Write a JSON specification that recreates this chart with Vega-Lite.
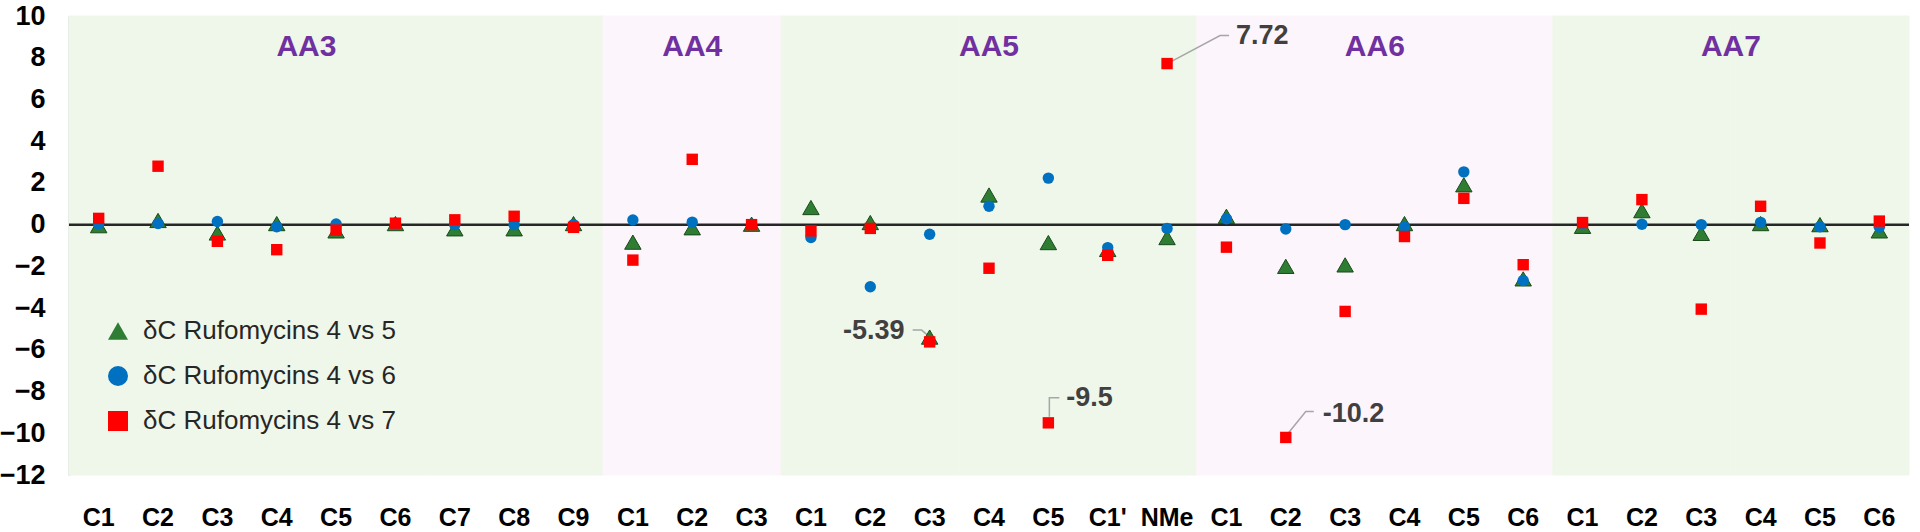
{
  "$schema": "https://vega.github.io/schema/vega-lite/v6.json",
  "width": 1840,
  "height": 459,
  "autosize": {"type": "none"},
  "padding": {"left": 69, "top": 16, "right": 11, "bottom": 57},
  "background": "white",
  "config": {
    "view": {"stroke": null},
    "font": "Liberation Sans",
    "axisY": {"labelFontSize": 27, "labelFontWeight": "bold", "labelColor": "#000000", "ticks": false, "grid": false, "domain": true, "domainColor": "#C4CCC4", "domainWidth": 2, "labelPadding": 24, "labelFlush": false, "labelOverlap": false}
  },
  "datasets": {
    "rows": [
      {"aa": "AA3", "pos": "AA3 C1", "d5": -0.05, "d6": 0.03, "d7": 0.3},
      {"aa": "AA3", "pos": "AA3 C2", "d5": 0.2, "d6": 0.05, "d7": 2.8},
      {"aa": "AA3", "pos": "AA3 C3", "d5": -0.4, "d6": 0.15, "d7": -0.8},
      {"aa": "AA3", "pos": "AA3 C4", "d5": 0.05, "d6": -0.1, "d7": -1.2},
      {"aa": "AA3", "pos": "AA3 C5", "d5": -0.3, "d6": 0.03, "d7": -0.26},
      {"aa": "AA3", "pos": "AA3 C6", "d5": 0.05, "d6": 0, "d7": 0.07},
      {"aa": "AA3", "pos": "AA3 C7", "d5": -0.2, "d6": 0, "d7": 0.23},
      {"aa": "AA3", "pos": "AA3 C8", "d5": -0.2, "d6": 0, "d7": 0.4},
      {"aa": "AA3", "pos": "AA3 C9", "d5": 0.05, "d6": 0, "d7": -0.13},
      {"aa": "AA4", "pos": "AA4 C1", "d5": -0.84, "d6": 0.22, "d7": -1.7},
      {"aa": "AA4", "pos": "AA4 C2", "d5": -0.15, "d6": 0.12, "d7": 3.13},
      {"aa": "AA4", "pos": "AA4 C3", "d5": 0.02, "d6": 0.02, "d7": 0},
      {"aa": "AA5", "pos": "AA5 C1", "d5": 0.82, "d6": -0.62, "d7": -0.3},
      {"aa": "AA5", "pos": "AA5 C2", "d5": 0.1, "d6": -2.98, "d7": -0.18},
      {"aa": "AA5", "pos": "AA5 C3", "d5": -5.39, "d6": -0.46, "d7": -5.62},
      {"aa": "AA5", "pos": "AA5 C4", "d5": 1.42, "d6": 0.88, "d7": -2.09},
      {"aa": "AA5", "pos": "AA5 C5", "d5": -0.86, "d6": 2.23, "d7": -9.5},
      {"aa": "AA5", "pos": "AA5 C1'", "d5": -1.19, "d6": -1.1, "d7": -1.47},
      {"aa": "AA5", "pos": "AA5 NMe", "d5": -0.62, "d6": -0.18, "d7": 7.72},
      {"aa": "AA6", "pos": "AA6 C1", "d5": 0.4, "d6": 0.28, "d7": -1.08},
      {"aa": "AA6", "pos": "AA6 C2", "d5": -2.0, "d6": -0.21, "d7": -10.2},
      {"aa": "AA6", "pos": "AA6 C3", "d5": -1.93, "d6": 0, "d7": -4.16},
      {"aa": "AA6", "pos": "AA6 C4", "d5": 0.05, "d6": -0.1, "d7": -0.57},
      {"aa": "AA6", "pos": "AA6 C5", "d5": 1.91, "d6": 2.53, "d7": 1.26},
      {"aa": "AA6", "pos": "AA6 C6", "d5": -2.6, "d6": -2.68, "d7": -1.92},
      {"aa": "AA7", "pos": "AA7 C1", "d5": -0.08, "d6": 0.05, "d7": 0.1},
      {"aa": "AA7", "pos": "AA7 C2", "d5": 0.67, "d6": 0.02, "d7": 1.2},
      {"aa": "AA7", "pos": "AA7 C3", "d5": -0.42, "d6": 0, "d7": -4.05},
      {"aa": "AA7", "pos": "AA7 C4", "d5": 0.05, "d6": 0.11, "d7": 0.88},
      {"aa": "AA7", "pos": "AA7 C5", "d5": 0, "d6": -0.1, "d7": -0.88},
      {"aa": "AA7", "pos": "AA7 C6", "d5": -0.3, "d6": -0.12, "d7": 0.17}
    ],
    "groups": [
      {"aa": "AA3", "pos": "AA3 C4", "between": true},
      {"aa": "AA4", "pos": "AA4 C2", "between": false},
      {"aa": "AA5", "pos": "AA5 C4", "between": false},
      {"aa": "AA6", "pos": "AA6 C3", "between": true},
      {"aa": "AA7", "pos": "AA7 C3", "between": true}
    ]
  },
  "layer": [
    {
      "data": {"name": "rows"},
      "mark": {"type": "rect", "strokeWidth": 1},
      "encoding": {
        "x": {
          "field": "pos", "type": "nominal", "title": null,
          "scale": {"paddingInner": 0, "paddingOuter": 0, "domain": ["AA3 C1","AA3 C2","AA3 C3","AA3 C4","AA3 C5","AA3 C6","AA3 C7","AA3 C8","AA3 C9","AA4 C1","AA4 C2","AA4 C3","AA5 C1","AA5 C2","AA5 C3","AA5 C4","AA5 C5","AA5 C1'","AA5 NMe","AA6 C1","AA6 C2","AA6 C3","AA6 C4","AA6 C5","AA6 C6","AA7 C1","AA7 C2","AA7 C3","AA7 C4","AA7 C5","AA7 C6"]},
          "axis": {"labelExpr": "split(datum.value, ' ')[1]", "labelAngle": 0, "labelFontSize": 25, "labelFontWeight": "bold", "labelColor": "#000000", "ticks": false, "domain": false, "grid": false, "offset": 28, "labelPadding": 2, "labelBaseline": "top"}
        },
        "fill": {
          "condition": {"test": "datum.aa === 'AA4' || datum.aa === 'AA6'", "value": "#FDF5FC"},
          "value": "#EFF7EA"
        },
        "stroke": {
          "condition": {"test": "datum.aa === 'AA4' || datum.aa === 'AA6'", "value": "#FDF5FC"},
          "value": "#EFF7EA"
        }
      }
    },
    {
      "data": {"values": [{"zero": 0}]},
      "mark": {"type": "rule", "color": "#262626", "strokeWidth": 2.5},
      "encoding": {
        "y": {"field": "zero", "type": "quantitative", "title": null, "scale": {"domain": [-12, 10], "nice": false},
          "axis": {"values": [-12,-10,-8,-6,-4,-2,0,2,4,6,8,10]}
        }
      }
    },
    {
      "data": {"values": [{"pos": "AA5 NMe", "value": 7.72}]},
      "mark": {"type": "point", "shape": "M 4 -2 L 53 -28 L 62 -28", "size": 4, "filled": false, "stroke": "#A6A6A6", "strokeWidth": 1.5, "opacity": 1},
      "encoding": {
        "x": {"field": "pos", "type": "nominal", "title": null},
        "y": {"field": "value", "type": "quantitative", "title": null}
      }
    },
    {
      "data": {"values": [{"pos": "AA5 C3", "value": -5.39}]},
      "mark": {"type": "point", "shape": "M -17 -7 L -8 -7 L -1 -1", "size": 4, "filled": false, "stroke": "#A6A6A6", "strokeWidth": 1.5, "opacity": 1},
      "encoding": {
        "x": {"field": "pos", "type": "nominal", "title": null},
        "y": {"field": "value", "type": "quantitative", "title": null}
      }
    },
    {
      "data": {"values": [{"pos": "AA5 C5", "value": -9.5}]},
      "mark": {"type": "point", "shape": "M 1 -6 L 1 -25 L 11 -25", "size": 4, "filled": false, "stroke": "#A6A6A6", "strokeWidth": 1.5, "opacity": 1},
      "encoding": {
        "x": {"field": "pos", "type": "nominal", "title": null},
        "y": {"field": "value", "type": "quantitative", "title": null}
      }
    },
    {
      "data": {"values": [{"pos": "AA6 C2", "value": -10.2}]},
      "mark": {"type": "point", "shape": "M 3 -5 L 20 -26 L 28 -26", "size": 4, "filled": false, "stroke": "#A6A6A6", "strokeWidth": 1.5, "opacity": 1},
      "encoding": {
        "x": {"field": "pos", "type": "nominal", "title": null},
        "y": {"field": "value", "type": "quantitative", "title": null}
      }
    },
    {
      "data": {"name": "rows"},
      "transform": [{"fold": ["d5", "d6", "d7"], "as": ["series", "value"]}],
      "mark": {"type": "point", "filled": true, "opacity": 1, "strokeWidth": 1},
      "encoding": {
        "x": {"field": "pos", "type": "nominal", "title": null},
        "y": {"field": "value", "type": "quantitative", "title": null},
        "color": {
          "field": "series", "type": "nominal",
          "scale": {"domain": ["d5", "d6", "d7"], "range": ["#2E7D32", "#0070C0", "#FF0000"]},
          "legend": {
            "title": null, "orient": "none", "legendX": 36, "legendY": 302, "padding": 0,
            "labelExpr": "'δC Rufomycins 4 vs ' + substring(datum.label, 1)",
            "labelFontSize": 26, "labelColor": "#262626", "labelLimit": 0, "rowPadding": 19,
            "labelOffset": 12, "symbolStrokeWidth": 0, "symbolSize": 400
          }
        },
        "shape": {
          "field": "series", "type": "nominal",
          "scale": {"domain": ["d5", "d6", "d7"], "range": ["triangle-up", "circle", "square"]},
          "legend": {
            "title": null, "orient": "none", "legendX": 36, "legendY": 302, "padding": 0,
            "labelExpr": "'δC Rufomycins 4 vs ' + substring(datum.label, 1)",
            "labelFontSize": 26, "labelColor": "#262626", "labelLimit": 0, "rowPadding": 19,
            "labelOffset": 12, "symbolStrokeWidth": 0, "symbolSize": 400
          }
        },
        "size": {
          "condition": {"test": "datum.series === 'd5'", "value": 270},
          "value": 130
        },
        "stroke": {
          "condition": {"test": "datum.series === 'd5'", "value": "#1A4A1A"},
          "value": null
        }
      }
    },
    {
      "data": {"name": "groups"},
      "transform": [{"filter": "!datum.between"}],
      "mark": {"type": "text", "fontSize": 30, "fontWeight": "bold", "color": "#7030A0", "baseline": "middle", "align": "center"},
      "encoding": {
        "x": {"field": "pos", "type": "nominal", "title": null},
        "y": {"datum": 8.5, "type": "quantitative", "title": null},
        "text": {"field": "aa"}
      }
    },
    {
      "data": {"name": "groups"},
      "transform": [{"filter": "datum.between"}],
      "mark": {"type": "text", "fontSize": 30, "fontWeight": "bold", "color": "#7030A0", "baseline": "middle", "align": "center"},
      "encoding": {
        "x": {"field": "pos", "type": "nominal", "title": null, "bandPosition": 1},
        "y": {"datum": 8.5, "type": "quantitative", "title": null},
        "text": {"field": "aa"}
      }
    },
    {
      "data": {"values": [{"pos": "AA5 NMe", "value": 7.72, "label": "7.72"}]},
      "mark": {"type": "text", "fontSize": 27, "fontWeight": "bold", "color": "#404040", "align": "left", "baseline": "middle", "dx": 69, "dy": -28},
      "encoding": {
        "x": {"field": "pos", "type": "nominal", "title": null},
        "y": {"field": "value", "type": "quantitative", "title": null},
        "text": {"field": "label"}
      }
    },
    {
      "data": {"values": [{"pos": "AA5 C3", "value": -5.39, "label": "-5.39"}]},
      "mark": {"type": "text", "fontSize": 27, "fontWeight": "bold", "color": "#404040", "align": "right", "baseline": "middle", "dx": -25, "dy": -6},
      "encoding": {
        "x": {"field": "pos", "type": "nominal", "title": null},
        "y": {"field": "value", "type": "quantitative", "title": null},
        "text": {"field": "label"}
      }
    },
    {
      "data": {"values": [{"pos": "AA5 C5", "value": -9.5, "label": "-9.5"}]},
      "mark": {"type": "text", "fontSize": 27, "fontWeight": "bold", "color": "#404040", "align": "left", "baseline": "middle", "dx": 18, "dy": -25},
      "encoding": {
        "x": {"field": "pos", "type": "nominal", "title": null},
        "y": {"field": "value", "type": "quantitative", "title": null},
        "text": {"field": "label"}
      }
    },
    {
      "data": {"values": [{"pos": "AA6 C2", "value": -10.2, "label": "-10.2"}]},
      "mark": {"type": "text", "fontSize": 27, "fontWeight": "bold", "color": "#404040", "align": "left", "baseline": "middle", "dx": 37, "dy": -23},
      "encoding": {
        "x": {"field": "pos", "type": "nominal", "title": null},
        "y": {"field": "value", "type": "quantitative", "title": null},
        "text": {"field": "label"}
      }
    }
  ]
}
